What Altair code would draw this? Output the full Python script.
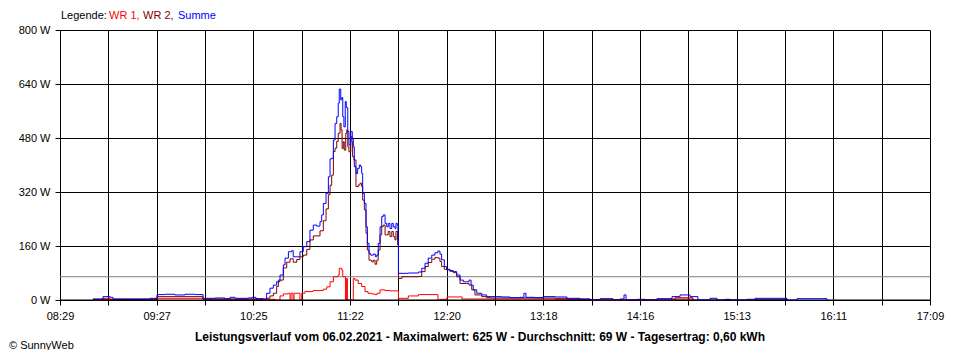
import altair as alt
import pandas as pd

# ---- data (time in minutes after midnight, power in W) ----
x_labels = ["08:29", "09:27", "10:25", "11:22", "12:20", "13:18", "14:16", "15:13", "16:11", "17:09"]
y_ticks = [0, 160, 320, 480, 640, 800]
average_w = 69

summe = [(528.7, 3), (534.7, 10), (538.9, 8), (540.7, 3), (562.8, 5), (567.0, 16), (571.8, 17), (577.7, 15),
         (583.7, 17), (589.7, 16), (594.5, 5), (601.6, 6), (607.6, 4), (610.6, 8), (613.6, 5), (621.4, 6),
         (623.8, 8), (626.1, 4), (630.3, 3), (632.5, 20), (634.5, 35), (636.5, 44), (638.5, 54), (640.5, 74),
         (642.5, 104), (643.5, 124), (645.5, 143), (647.5, 146), (648.4, 128), (650.5, 128), (652.4, 143),
         (654.4, 158), (656.5, 173), (658.4, 207), (660.4, 222), (662.4, 219), (664.4, 232), (665.4, 252),
         (666.4, 286), (668.0, 316), (669.4, 365), (670.4, 418), (671.4, 420), (672.4, 474), (673.4, 523),
         (674.4, 543), (675.3, 583), (675.9, 625), (676.8, 593), (677.4, 600), (678.0, 543), (678.7, 513),
         (679.5, 588), (680.1, 570), (681.0, 499), (681.7, 459), (682.8, 499), (683.7, 479), (684.3, 454),
         (684.9, 395), (685.9, 375), (686.9, 390), (687.9, 400), (688.7, 395), (689.3, 375), (689.9, 316),
         (690.9, 286), (691.9, 217), (692.7, 168), (693.7, 138), (694.7, 133), (696.3, 136), (697.5, 128),
         (698.3, 133), (699.2, 168), (700.3, 217), (701.3, 247), (702.2, 252), (703.3, 227), (704.3, 217),
         (705.2, 227), (706.2, 212), (707.3, 227), (708.2, 217), (709.2, 212), (709.8, 227), (710.6, 222),
         (711.0, 178), (711.3, 79), (717.2, 80), (723.2, 83), (725.2, 94), (727.2, 109), (729.1, 124),
         (731.2, 133), (733.1, 140), (734.8, 145), (736.1, 136), (737.1, 119), (738.7, 99), (740.1, 91),
         (742.1, 87), (744.1, 84), (746.1, 74), (748.1, 59), (750.1, 54), (752.1, 54), (753.5, 59),
         (754.7, 44), (756.0, 30), (758.1, 20), (761.1, 15), (764.0, 10), (766.0, 10), (769.0, 10),
         (773.0, 9), (778.0, 7), (783.9, 8), (786.3, 20), (787.5, 8), (792.9, 7), (797.7, 10), (804.9, 9),
         (812.0, 5), (819.8, 3), (825.8, 0), (831.8, 4), (839.5, 0), (843.7, 3), (846.1, 15), (847.3, 0),
         (853.9, 2), (858.7, 0), (865.8, 4), (874.8, 10), (879.6, 15), (885.6, 10), (890.3, 0), (897.5, 5),
         (901.7, 0), (906.5, 2), (909.5, 0), (919.6, 2), (924.4, 5), (943.5, 0), (949.5, 4), (967.4, 0)]

wr2 = [(528.7, 2), (567.0, 10), (594.5, 3), (630.3, 2), (632.5, 5), (634.5, 12), (636.5, 20), (638.5, 40),
       (639.5, 59), (642.5, 95), (644.5, 112), (646.5, 122), (648.4, 112), (650.5, 120), (652.4, 128),
       (654.4, 133), (656.5, 150), (658.4, 178), (660.4, 190), (662.4, 190), (664.4, 205), (666.4, 235),
       (668.0, 270), (669.4, 312), (670.4, 340), (671.4, 370), (672.4, 440), (673.4, 450), (674.4, 470),
       (675.3, 494), (676.4, 523), (677.0, 504), (677.6, 449), (678.3, 469), (678.9, 444), (679.8, 494),
       (680.4, 504), (681.0, 454), (681.7, 439), (682.8, 484), (683.5, 469), (683.9, 425), (684.7, 415),
       (685.9, 336), (687.3, 341), (688.3, 346), (689.3, 336), (689.9, 296), (690.9, 267), (691.9, 198),
       (692.7, 148), (693.7, 118), (695.3, 113), (696.3, 118), (697.3, 106), (698.3, 118), (699.2, 148),
       (700.3, 193), (701.3, 217), (702.2, 222), (703.3, 193), (704.3, 193), (705.2, 203), (706.2, 188),
       (707.3, 203), (708.2, 188), (709.2, 178), (709.8, 203), (710.8, 163), (711.3, 64), (713.4, 69),
       (723.2, 70), (725.2, 84), (727.2, 99), (729.1, 111), (731.2, 121), (733.1, 126), (734.8, 124),
       (736.1, 114), (737.1, 99), (738.7, 91), (740.1, 89), (742.1, 85), (744.1, 81), (746.1, 69),
       (748.1, 49), (752.1, 49), (753.5, 44), (755.1, 30), (757.0, 15), (761.1, 10), (764.0, 7),
       (766.0, 6), (797.7, 6), (804.9, 5), (812.0, 3), (819.8, 2), (825.8, 0), (874.8, 3), (887.3, 0),
       (924.4, 2), (943.5, 0)]

wr1 = [(528.7, 0), (534.7, 5), (538.9, 2), (567.0, 5), (594.5, 2), (630.3, 0), (633.3, 2), (637.5, 0),
       (640.5, 12), (642.5, 18), (645.5, 20), (646.5, 0), (647.1, 20), (648.3, 0), (648.9, 20), (652.4, 0),
       (653.5, 20), (655.4, 25), (660.2, 28), (666.4, 32), (668.4, 39), (670.4, 54), (672.4, 69),
       (675.3, 74), (675.9, 94), (677.4, 89), (678.0, 69), (679.6, 0), (680.2, 64), (680.8, 0), (684.3, 64),
       (685.3, 59), (687.3, 49), (689.3, 40), (691.3, 25), (693.1, 20), (695.3, 18), (697.3, 16),
       (698.5, 20), (700.3, 30), (703.3, 28), (706.2, 27), (711.3, 5), (717.2, 12), (723.2, 16),
       (734.9, 0), (736.1, 2), (740.3, 9), (749.3, 3), (804.9, 2), (825.8, 0), (876.6, 7), (887.3, 0)]

# ---- scales / axes ----
t0, t1 = 509, 1029
step = (t1 - t0) / 18
grid_vals = [t0 + i * step for i in range(19)]
label_arr = [x_labels[i // 2] if i % 2 == 0 else "" for i in range(19)]
label_expr = "[" + ",".join("'" + s + "'" for s in label_arr) + "][round((datum.value - %d) / %f)]" % (t0, step)

FONT = "Liberation Sans"

x_enc = alt.X("t:Q", scale=alt.Scale(domain=[t0, t1], nice=False, zero=False),
              axis=alt.Axis(values=grid_vals, labelExpr=label_expr, title=None, grid=True,
                            gridColor="black", gridOpacity=1, domainColor="black", tickColor="black",
                            tickSize=5, labelColor="black", labelFont=FONT, labelFontSize=11,
                            labelPadding=5, labelFlush=False, labelOverlap=False))
y_enc = alt.Y("w:Q", scale=alt.Scale(domain=[0, 800], nice=False),
              axis=alt.Axis(values=y_ticks, labelExpr="datum.value + ' W'", title=None, grid=True,
                            gridColor="black", gridOpacity=1, domainColor="black", tickColor="black",
                            tickSize=5, labelColor="black", labelFont=FONT, labelFontSize=11,
                            labelPadding=5))


def series(points, color):
    df = pd.DataFrame(points, columns=["t", "w"])
    return alt.Chart(df).mark_line(color=color, strokeWidth=1, interpolate="step-after").encode(
        x=x_enc, y=y_enc)


avg = alt.Chart(pd.DataFrame({"w": [average_w]})).mark_rule(color="#808080", strokeWidth=1).encode(y="w:Q")
zero = alt.Chart(pd.DataFrame({"w": [0]})).mark_rule(color="black", strokeWidth=1).encode(y="w:Q")

one = pd.DataFrame({"a": [0]})


def txt(text, x, y, color="black", bold=False, align="left", size=11):
    return alt.Chart(one).mark_text(text=text, align=align, baseline="middle", font=FONT, fontSize=size,
                                    fontWeight="bold" if bold else "normal", color=color).encode(
        x=alt.value(x), y=alt.value(y))


legend = [txt("Legende:", 1, -14), txt("WR 1,", 49, -14, "#FF0000"), txt("WR 2,", 83, -14, "#800000"),
          txt("Summe", 118, -14, "#0000FF")]
title = txt("Leistungsverlauf vom 06.02.2021 - Maximalwert: 625 W - Durchschnitt: 69 W - Tagesertrag: 0,60 kWh",
            420, 307, bold=True, align="center", size=12)
copy = txt("© SunnyWeb", -51, 316)

chart = alt.layer(avg, series(wr1, "#FF0000"), series(wr2, "#800000"), series(summe, "#0000FF"), zero,
                  *legend, title, copy).properties(
    width=870, height=270,
    padding={"left": 52, "top": 22, "right": 20, "bottom": 50},
    autosize=alt.AutoSizeParams(type="none"),
    background="white",
).configure_view(stroke="transparent")

chart.save("out.html", embed_options={"renderer": "svg", "actions": False})
